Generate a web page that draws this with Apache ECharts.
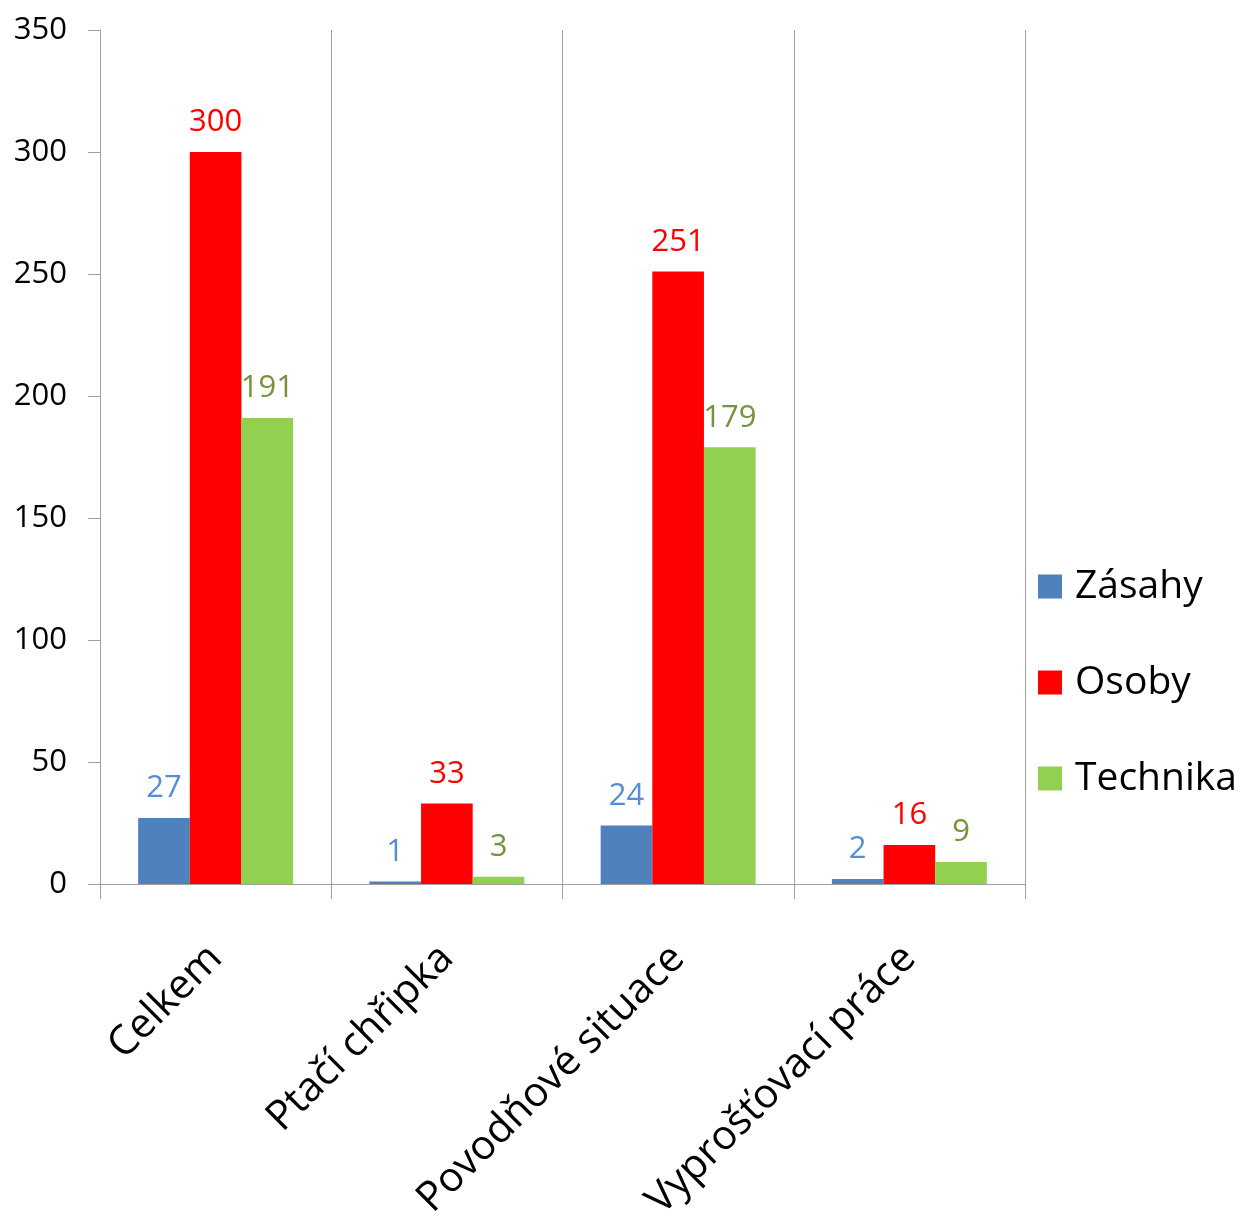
<!DOCTYPE html>
<html>
<head>
<meta charset="utf-8">
<script src="https://cdn.jsdelivr.net/npm/echarts@6/dist/echarts.min.js"></script>
<style>
html,body{margin:0;padding:0;background:#fff;}
#c{width:1242px;height:1220px;}
</style>
</head>
<body>
<div id="c"></div>
<script>
var categories = ["Celkem", "Ptačí chřipka", "Povodňové situace", "Vyprošťovací práce"];
var seriesNames = ["Zásahy", "Osoby", "Technika"];
var zasahy = [27, 1, 24, 2];
var osoby = [300, 33, 251, 16];
var technika = [191, 3, 179, 9];
var yTicks = [0, 50, 100, 150, 200, 250, 300, 350];

var barColors = ["#4f81bd", "#ff0000", "#92d050"];
var labelColors = ["#558ed5", "#ff0000", "#77933c"];
var font = "'Open Sans', sans-serif";
var values = [zasahy, osoby, technika];

var chart = echarts.init(document.getElementById('c'));
chart.setOption({
  animation: false,
  backgroundColor: '#ffffff',
  grid: { left: 100, right: 217, top: 30, bottom: 336, containLabel: false, outerBoundsMode: 'none' },
  legend: {
    orient: 'vertical',
    left: 1038,
    top: 567,
    padding: 0,
    itemWidth: 24,
    itemHeight: 24,
    itemGap: 57,
    icon: 'rect',
    textStyle: { fontFamily: font, fontSize: 39, color: '#000', lineHeight: 39, padding: [0,0,0,8] },
    data: seriesNames
  },
  xAxis: {
    type: 'category',
    data: categories,
    boundaryGap: true,
    axisLine: { lineStyle: { color: '#a0a0a0', width: 1 } },
    axisTick: { show: true, length: 15, lineStyle: { color: '#a0a0a0' } },
    splitLine: { show: true, lineStyle: { color: '#a0a0a0', width: 1 } },
    axisLabel: { rotate: 45, margin: 68, fontFamily: font, fontSize: 41, color: '#000', interval: 0 }
  },
  yAxis: {
    type: 'value',
    min: 0, max: 350, interval: 50,
    axisLine: { show: true, lineStyle: { color: '#a0a0a0', width: 1 } },
    axisTick: { show: true, length: 12, lineStyle: { color: '#a0a0a0' } },
    splitLine: { show: false },
    axisLabel: {
      margin: 33, fontFamily: font, fontSize: 31, color: '#000',
      formatter: function (v) { return yTicks.indexOf(v) >= 0 ? String(v) : ''; }
    }
  },
  series: seriesNames.map(function (n, i) {
    return {
      name: n,
      type: 'bar',
      data: values[i],
      barGap: '0%',
      barCategoryGap: '33%',
      itemStyle: { color: barColors[i] },
      label: { show: true, position: 'top', distance: 14, fontFamily: font, fontSize: 31, color: labelColors[i] }
    };
  })
});
</script>
</body>
</html>
